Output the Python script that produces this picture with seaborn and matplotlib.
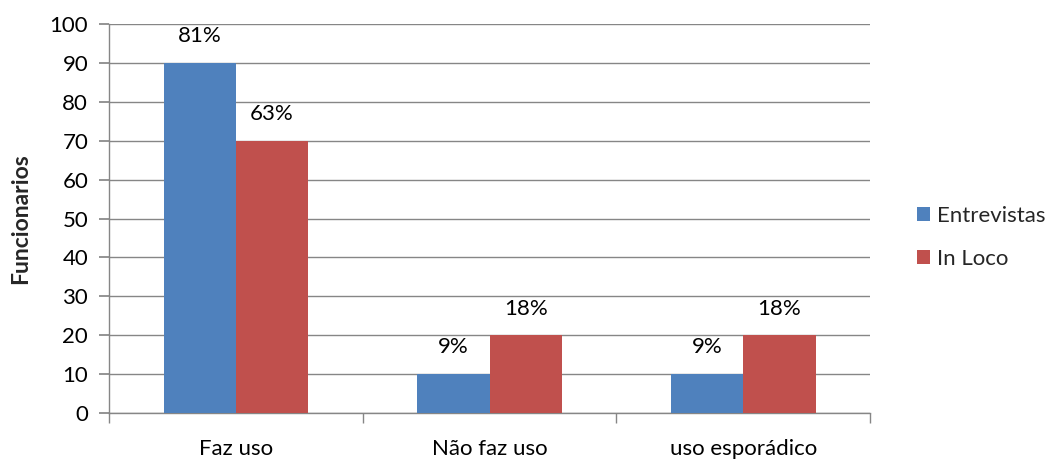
import matplotlib
matplotlib.use("Agg")
import matplotlib.pyplot as plt
import seaborn as sns
import pandas as pd

categories = ["Faz uso", "Não faz uso", "uso esporádico"]
series_names = ["Entrevistas", "In Loco"]
entrevistas = [90, 10, 10]
in_loco = [70, 20, 20]
pct_entrevistas = ["81%", "9%", "9%"]
pct_in_loco = ["63%", "18%", "18%"]
y_ticks = [0, 10, 20, 30, 40, 50, 60, 70, 80, 90, 100]

colors = ["#4F81BD", "#C0504D"]
axis_gray = "#868686"

sns.set_theme(style="white")
plt.rcParams["font.family"] = ["Lato", "DejaVu Sans"]

df = pd.DataFrame({
    "categoria": categories * 2,
    "serie": [series_names[0]] * 3 + [series_names[1]] * 3,
    "valor": entrevistas + in_loco,
})

fig = plt.figure(figsize=(10.6, 4.59), dpi=100)
ax = fig.add_axes([0.1028, 0.1002, 0.8208 - 0.1028, 0.9477 - 0.1002])

sns.barplot(data=df, x="categoria", y="valor", hue="serie", palette=colors,
            width=0.57, gap=0, saturation=1, ax=ax, zorder=3, linewidth=0)

# value labels above each bar
for container, texts in zip(ax.containers, [pct_entrevistas, pct_in_loco]):
    ax.bar_label(container, labels=texts, padding=12, fontsize=16, color="black")

ax.set_xlim(-0.5, 2.5)
ax.set_ylim(0, 100)
ax.set_yticks(y_ticks)
ax.yaxis.grid(True, color=axis_gray, linewidth=1, zorder=0)
ax.set_axisbelow(True)

for side in ["top", "right"]:
    ax.spines[side].set_visible(False)
for side in ["left", "bottom"]:
    ax.spines[side].set_color(axis_gray)
    ax.spines[side].set_linewidth(1)

ax.tick_params(axis="y", which="major", length=7, color=axis_gray, labelsize=16,
               labelcolor="black", left=True, pad=8)
ax.tick_params(axis="x", which="major", length=0, labelsize=16, labelcolor="black", pad=19)
ax.set_xticks([-0.5, 0.5, 1.5, 2.5], minor=True)
ax.tick_params(axis="x", which="minor", length=7, color=axis_gray, bottom=True, width=1)

ax.set_xlabel("")
ax.set_ylabel("Funcionarios", fontsize=16.5, fontweight="bold", labelpad=13)

leg = ax.legend(loc="center left", bbox_to_anchor=(1.035, 0.452), frameon=False,
                fontsize=16, handlelength=0.6, handleheight=0.6,
                handletextpad=0.3, labelspacing=1.05)
leg.set_title(None)

fig.savefig("out.png", dpi=100, facecolor="white")
